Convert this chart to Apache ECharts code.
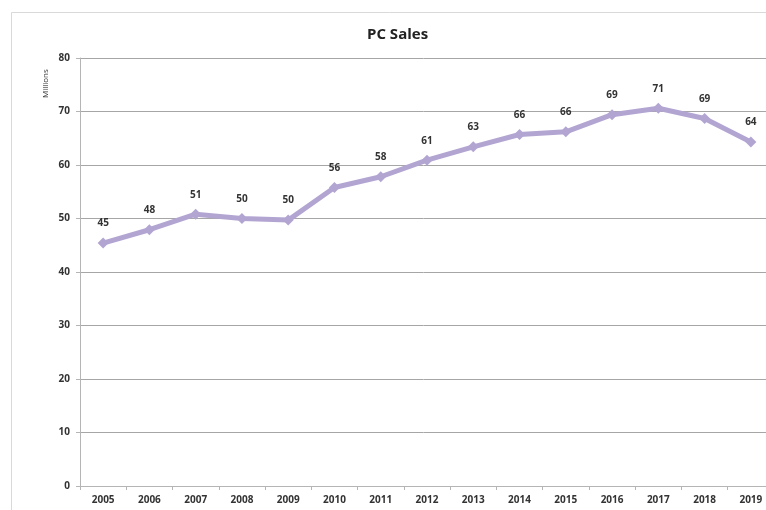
<!DOCTYPE html>
<html>
<head>
<meta charset="utf-8">
<script src="https://cdn.jsdelivr.net/npm/echarts@6/dist/echarts.min.js"></script>
<style>
  html, body { margin: 0; padding: 0; background: #fff; }
  #chart { width: 766px; height: 510px; }
</style>
</head>
<body>
<div id="chart"></div>
<script>
const years = ["2005", "2006", "2007", "2008", "2009", "2010", "2011", "2012",
               "2013", "2014", "2015", "2016", "2017", "2018", "2019"];
const sales = [45.4, 47.9, 50.8, 50.0, 49.7, 55.8, 57.8, 60.9,
               63.4, 65.7, 66.2, 69.4, 70.6, 68.7, 64.3];

const FONT = "Open Sans";

const chart = echarts.init(document.getElementById("chart"));

chart.setOption({
    backgroundColor: "#fff",
    animation: false,
    title: {
        text: "PC Sales",
        left: 362,
        top: 22,
        textStyle: { fontFamily: FONT, fontSize: 15, fontWeight: "bold", color: "#222" }
    },
    graphic: [
        {
            type: "rect",
            shape: { x: 11.5, y: 12.5, width: 800, height: 600 },
            style: { fill: "none", stroke: "#d9d9d9", lineWidth: 1 },
            silent: true
        },
        {
            type: "text",
            x: 42,
            y: 98,
            rotation: Math.PI / 2,
            style: { text: "Millions", fontFamily: FONT, fontSize: 8, fill: "#333" }
        }
    ],
    // plot runs past the right edge, like the cropped original
    grid: { left: 80, top: 58, width: 694, height: 428, outerBoundsMode: "none" },
    xAxis: {
        type: "category",
        data: years,
        boundaryGap: true,
        axisLine: { lineStyle: { color: "#b5b5b5" } },
        axisTick: { show: true, length: 4, lineStyle: { color: "#b5b5b5" } },
        axisLabel: { fontFamily: FONT, fontSize: 10, fontWeight: "bold", color: "#333", margin: 9 }
    },
    yAxis: {
        type: "value",
        min: 0,
        max: 80,
        interval: 10,
        axisLine: { show: true, lineStyle: { color: "#b5b5b5" } },
        axisTick: { show: true, length: 4, lineStyle: { color: "#b5b5b5" } },
        axisLabel: { fontFamily: FONT, fontSize: 10, fontWeight: "bold", color: "#333", margin: 10 },
        splitLine: { lineStyle: { color: "#a6a6a6", width: 1 } }
    },
    series: [{
        type: "line",
        data: sales,
        symbol: "diamond",
        symbolSize: 11,
        lineStyle: { color: "#b3a5d2", width: 5 },
        itemStyle: { color: "#b3a5d2" },
        label: {
            show: true,
            position: "top",
            distance: 9,
            formatter: p => Math.round(p.value),
            fontFamily: FONT,
            fontSize: 10,
            fontWeight: "bold",
            color: "#333"
        }
    }]
});
</script>
</body>
</html>
